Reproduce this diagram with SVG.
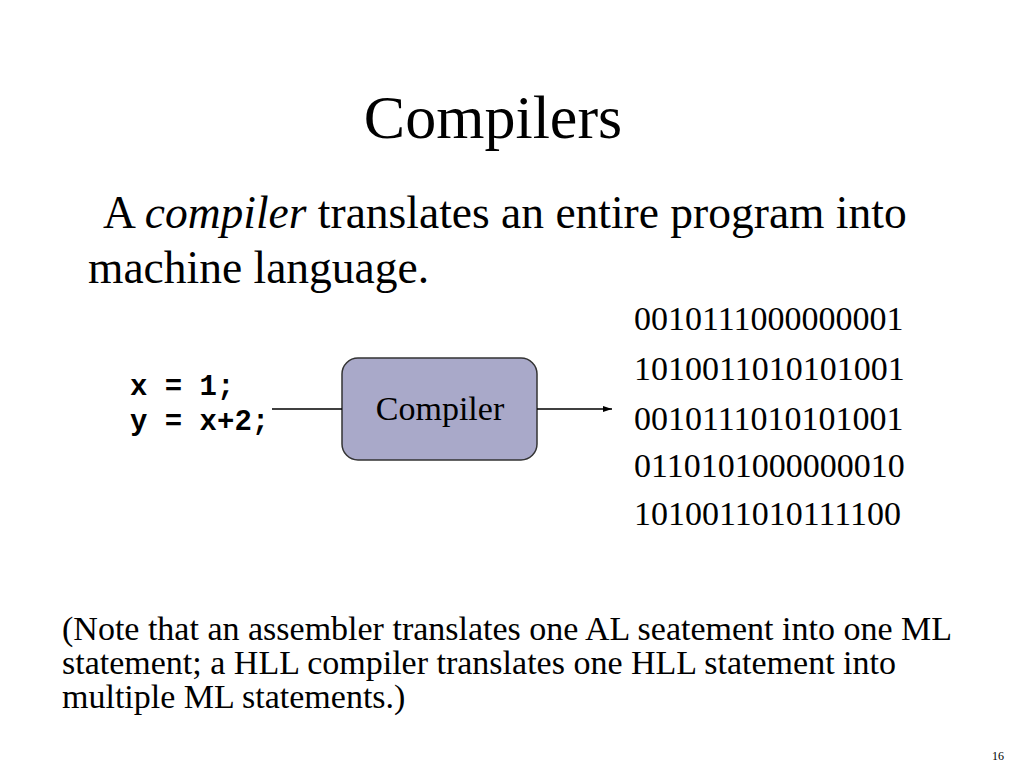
<svg xmlns="http://www.w3.org/2000/svg" width="1024" height="768" viewBox="0 0 1024 768">
<defs>
<style>
.serif{font-family:"Liberation Serif","Times New Roman",serif;fill:#000}
.mono{font-family:"Liberation Mono","Courier New",monospace;font-weight:bold;fill:#000}
.conn{stroke:#000;stroke-width:1.5;fill:none}
</style>
<marker id="arrow" markerWidth="10" markerHeight="8" refX="9" refY="4" orient="auto" markerUnits="userSpaceOnUse">
<path d="M0,1 L9,4 L0,7 Z" fill="#000"/>
</marker>
</defs>
<rect width="1024" height="768" fill="#fff"/>
<text class="serif" x="493" y="138" font-size="62" text-anchor="middle">Compilers</text>
<text class="serif" x="103" y="228" font-size="45.5">A <tspan font-style="italic">compiler</tspan> translates an entire program into</text>
<text class="serif" x="88" y="283" font-size="45.5">machine language.</text>
<g id="source">
<text class="mono" x="130" y="395" font-size="29">x = 1;</text>
<text class="mono" x="130" y="430" font-size="29">y = x+2;</text>
</g>
<g id="compiler">
<rect x="342" y="358" width="195" height="102" rx="16" fill="#a9a9c9" stroke="#333" stroke-width="1.5"/>
<text class="serif" x="440" y="420" font-size="34" text-anchor="middle">Compiler</text>
</g>
<g id="machine">
<text class="serif" x="634" y="330" font-size="34">0010111000000001</text>
<text class="serif" x="634" y="380" font-size="34">1010011010101001</text>
<text class="serif" x="634" y="430" font-size="34">0010111010101001</text>
<text class="serif" x="634" y="477" font-size="34">0110101000000010</text>
<text class="serif" x="634" y="525" font-size="34">1010011010111100</text>
</g>
<g id="connectors">
<line class="conn" x1="272" y1="409" x2="342" y2="409"/>
<line class="conn" x1="537" y1="409" x2="612" y2="409" marker-end="url(#arrow)"/>
</g>
<text class="serif" x="62" y="640" font-size="34">(Note that an assembler translates one AL seatement into one ML</text>
<text class="serif" x="62" y="674" font-size="34">statement; a HLL compiler translates one HLL statement into</text>
<text class="serif" x="62" y="708" font-size="34">multiple ML statements.)</text>
<text class="serif" x="998" y="760" font-size="12" text-anchor="middle">16</text>
</svg>
